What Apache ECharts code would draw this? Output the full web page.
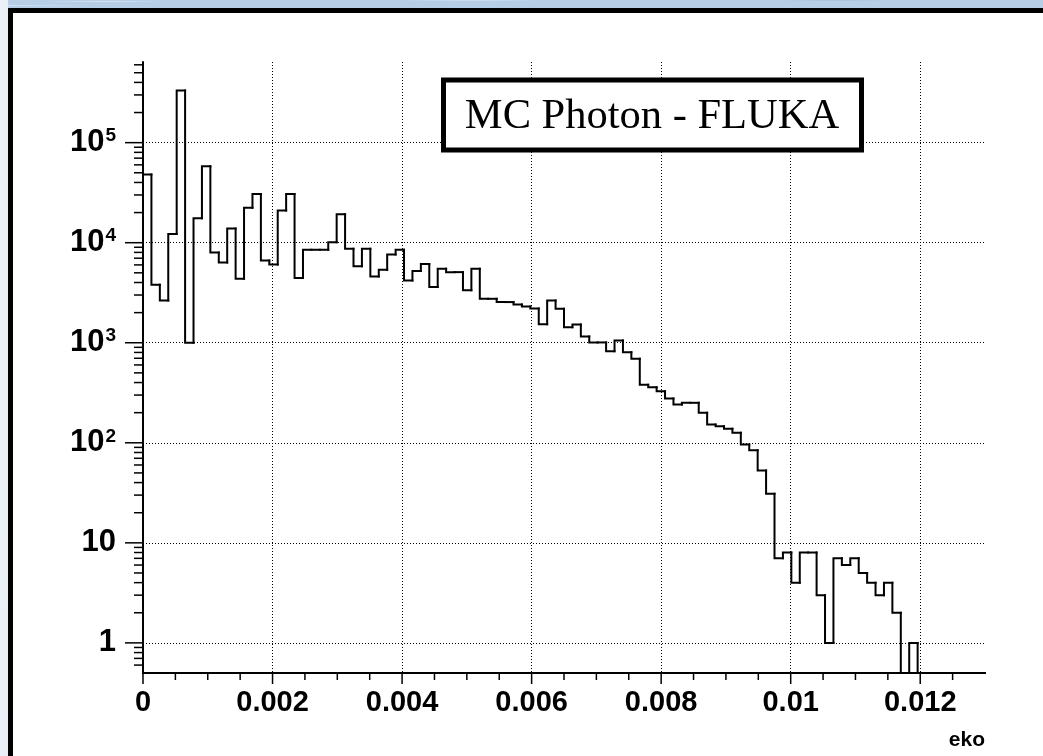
<!DOCTYPE html>
<html><head><meta charset="utf-8">
<script src="https://cdn.jsdelivr.net/npm/echarts@6/dist/echarts.min.js"></script>
<style>
html,body{margin:0;padding:0;width:1043px;height:756px;overflow:hidden;background:#fff;}
.strip{position:absolute;background-color:#b7cee7;
background-image:
 radial-gradient(ellipse at 10% 20%, rgba(255,255,255,.55) 0, rgba(255,255,255,0) 60px),
 radial-gradient(ellipse at 45% 0%, rgba(255,255,255,.5) 0, rgba(255,255,255,0) 80px),
 radial-gradient(ellipse at 80% 1%, rgba(90,130,190,.35) 0, rgba(90,130,190,0) 70px),
 radial-gradient(ellipse at 0% 70%, rgba(255,255,255,.5) 0, rgba(255,255,255,0) 90px);}
#stripTop{left:0;top:0;width:1043px;height:8px;}
#stripLeft{left:0;top:0;width:8px;height:756px;}
#panel{position:absolute;left:8px;top:8px;width:1100px;height:800px;background:#fff;border-left:5px solid #000;border-top:5px solid #000;}
#chart{position:absolute;left:0;top:0;width:1043px;height:756px;}
</style></head>
<body><div class="strip" id="stripTop"></div><div class="strip" id="stripLeft"></div><div id="panel"></div><div id="chart"></div>
<script>
// ---- data ----
const binLow = 0;
const binWidth = 0.00013;
const counts = [
  48000, 3800, 2650, 12200, 333000, 1000, 17600, 58000, 8000, 6350,
  13900, 4370, 22400, 30600, 6650, 6070, 21000, 30600, 4430, 8500,
  8500, 8500, 10100, 19300, 8710, 5800, 8710, 4600, 5370, 7640,
  8510, 4200, 5200, 6110, 3600, 5500, 5080, 5080, 3340, 5500,
  2750, 2750, 2550, 2550, 2415, 2306, 2200, 1530, 2650, 2190,
  1432, 1524, 1156, 1007, 1007, 824, 1054, 805, 692, 380,
  360, 328, 277, 241, 251, 251, 200, 152, 146, 138,
  126, 96, 84, 53, 31, 7, 8, 4, 8, 8,
  3, 1, 7, 6, 7, 5, 4, 3, 4, 2,
  0, 1, 0, 0, 0, 0, 0, 0, 0, 0
];
const xTicks = [0, 0.002, 0.004, 0.006, 0.008, 0.01, 0.012];
const xTickLabels = ['0', '0.002', '0.004', '0.006', '0.008', '0.01', '0.012'];
const yTicks = [1, 10, 100, 1000, 10000, 100000];
const yTickLabels = ['{b|1}', '{b|10}', '{b|10}{s|2}', '{b|10}{s|3}', '{b|10}{s|4}', '{b|10}{s|5}'];
const titleText = 'MC Photon - FLUKA';
const xName = 'eko';
const xMin = 0, xMax = 0.013;
const yMin = 0.5, yMax = 640000;

// ---- build ----
const histData = counts.map((c, i) => [binLow + i * binWidth, binLow + (i + 1) * binWidth, c, i > 0 ? counts[i - 1] : 0]);

function renderBin(params, api) {
  const x0 = api.value(0), x1 = api.value(1), v = api.value(2), vp = api.value(3);
  const yv = v > 0 ? v : yMin, yp = vp > 0 ? vp : yMin;
  const pts = [api.coord([x0, yp]), api.coord([x0, yv]), api.coord([x1, yv])];
  if (params.dataIndex === counts.length - 1) pts.push(api.coord([x1, yMin]));
  return { type: 'polyline', shape: { points: pts },
    style: { stroke: '#000', lineWidth: 2, fill: null, lineCap: 'square', lineJoin: 'miter' } };
}

function renderTicks(params, api) {
  const children = [];
  const line = (x1, y1, x2, y2) => children.push({ type: 'line', shape: { x1, y1, x2, y2 }, style: { stroke: '#000', lineWidth: 1.5 } });
  for (let n = -1; n <= 5; n++) {
    for (let k = 1; k <= 9; k++) {
      const v = k * Math.pow(10, n);
      if (v <= yMin * 1.0001 || v >= yMax) continue;
      const p = api.coord([xMin, v]);
      const len = k === 1 ? 18 : 9;
      line(p[0] - len, p[1], p[0], p[1]);
    }
  }
  for (let k = 0; k <= 25; k++) {
    const v = k * 0.0005;
    const p = api.coord([v, yMin]);
    const len = k % 4 === 0 ? 11 : 7;
    line(p[0], p[1], p[0], p[1] + len);
  }
  return { type: 'group', children };
}

const font = 'Liberation Sans, Arial, Helvetica, sans-serif';
const chart = echarts.init(document.getElementById('chart'), null, { renderer: 'canvas' });
chart.setOption({
  animation: false,
  backgroundColor: 'transparent',
  grid: { left: 143, top: 62, width: 842, height: 611, containLabel: false },
  xAxis: {
    type: 'value', min: xMin, max: xMax, interval: 0.002,
    axisLine: { show: true, lineStyle: { color: '#000', width: 2 } },
    axisTick: { show: false },
    axisLabel: {
      margin: 15, color: '#000', fontFamily: font, fontWeight: 'bold', fontSize: 29,
      showMaxLabel: false,
      formatter: v => { const i = xTicks.findIndex(t => Math.abs(t - v) < 1e-9); return i >= 0 ? xTickLabels[i] : ''; }
    },
    splitLine: { show: true, showMinLine: false, showMaxLine: false, lineStyle: { color: '#000', width: 1, type: [1, 2] } }
  },
  yAxis: {
    type: 'log', logBase: 10, min: yMin, max: yMax, splitNumber: 6,
    axisLine: { show: true, onZero: false, lineStyle: { color: '#000', width: 2 } },
    axisTick: { show: false },
    axisLabel: {
      margin: 27, color: '#000',
      showMinLabel: false, showMaxLabel: false,
      formatter: v => { const i = yTicks.findIndex(t => Math.abs(t - v) / t < 1e-6); return i >= 0 ? yTickLabels[i] : ''; },
      rich: {
        b: { fontFamily: font, fontWeight: 'bold', fontSize: 31, color: '#000', lineHeight: 32 },
        s: { fontFamily: font, fontWeight: 'bold', fontSize: 19, color: '#000', verticalAlign: 'top', lineHeight: 32, padding: [0, 0, 14, 1] }
      }
    },
    splitLine: { show: true, showMinLine: false, showMaxLine: false, lineStyle: { color: '#000', width: 1, type: [1, 2] } }
  },
  graphic: [
    { type: 'rect', z: 100, shape: { x: 443.5, y: 80, width: 418, height: 70 },
      style: { fill: '#fff', stroke: '#000', lineWidth: 5 } },
    { type: 'text', z: 101, x: 652, y: 117,
      style: { text: titleText, fill: '#000', font: '42.5px "Liberation Serif", "Times New Roman", serif', align: 'center', verticalAlign: 'middle' } },
    { type: 'text', z: 101, x: 985, y: 751,
      style: { text: xName, fill: '#000', font: 'bold 21px "Liberation Sans", Arial, sans-serif', align: 'right', verticalAlign: 'bottom' } }
  ],
  series: [
    { type: 'custom', name: 'hist', renderItem: renderBin, data: histData, clip: false,
      encode: { x: [0, 1], y: [2] }, z: 5, silent: true },
    { type: 'custom', name: 'ticks', renderItem: renderTicks, data: [[xMin, 1]], clip: false,
      encode: { x: 0, y: 1 }, z: 6, silent: true }
  ]
});
</script>
</body></html>
